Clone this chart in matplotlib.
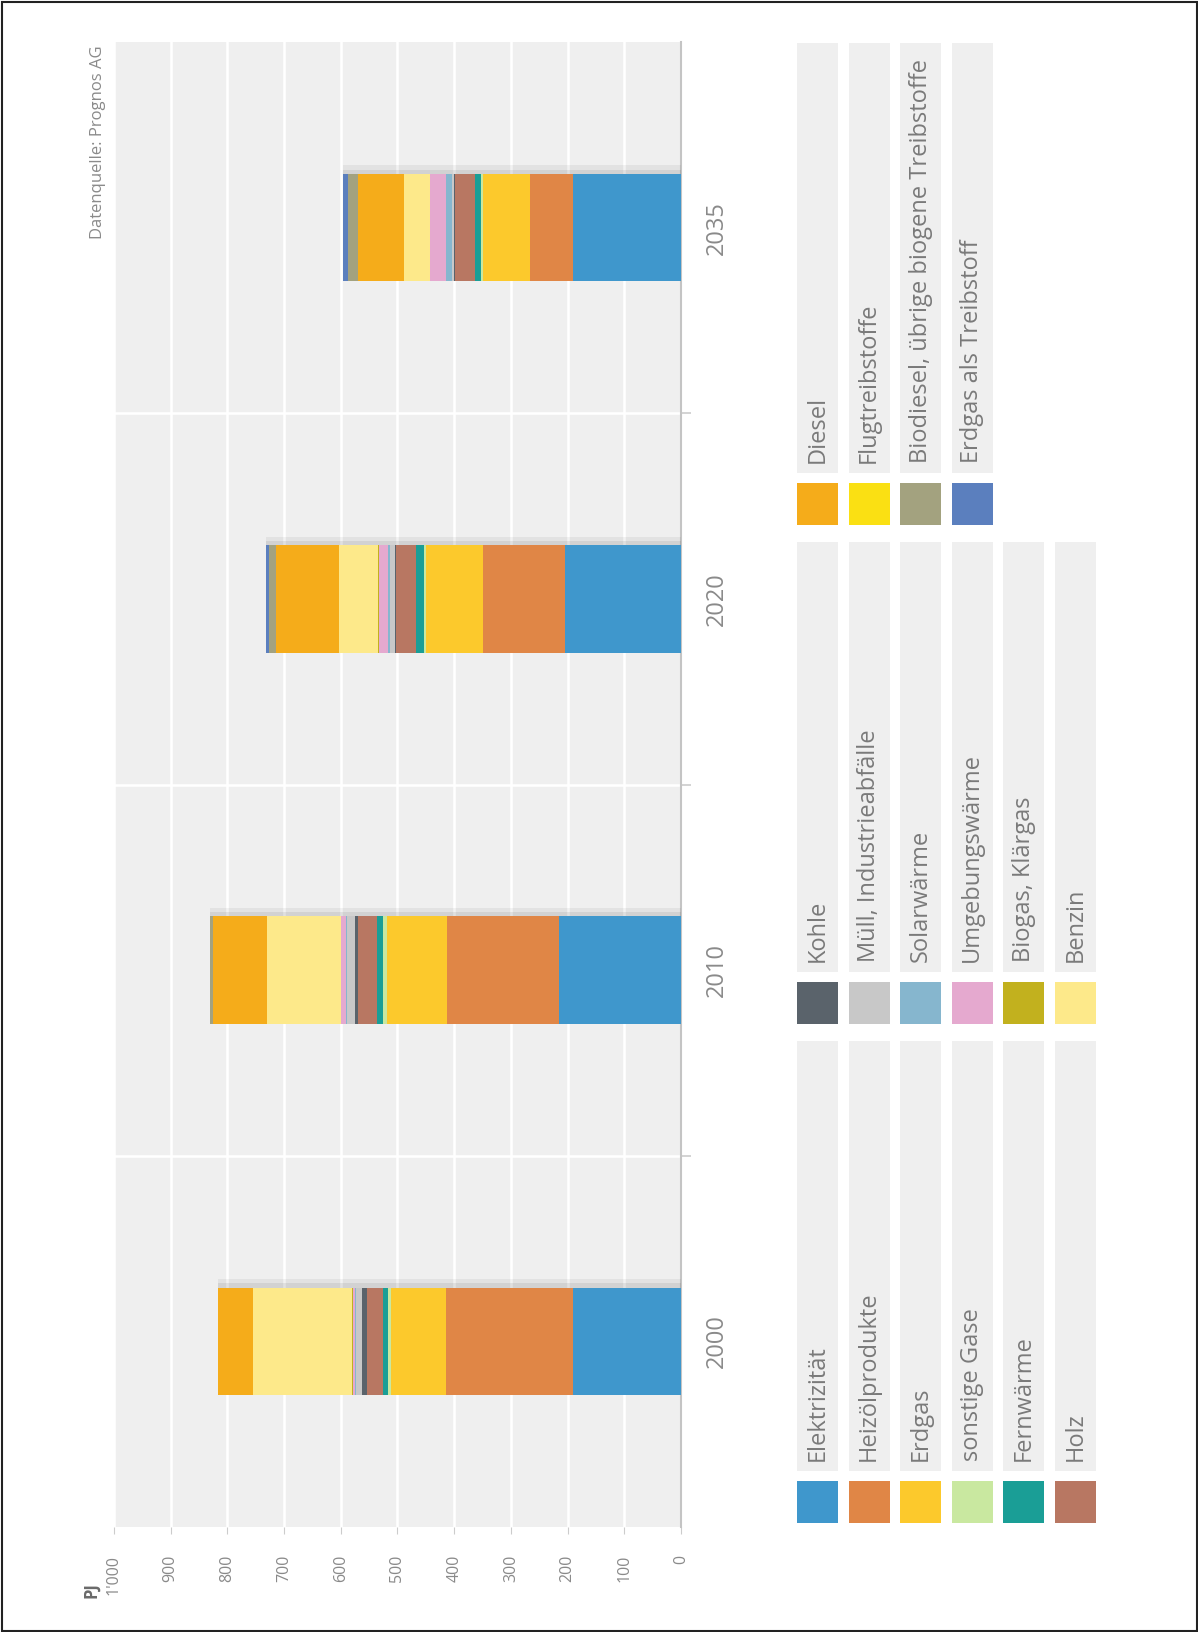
import matplotlib
matplotlib.use("Agg")
import matplotlib.pyplot as plt
from matplotlib.patches import Rectangle
from matplotlib import patheffects as pe
import numpy as np

plt.rcParams['font.family'] = ['Open Sans', 'DejaVu Sans']

# ---------------- data ----------------
years = ["2000", "2010", "2020", "2035"]
value_ticks = [0, 100, 200, 300, 400, 500, 600, 700, 800, 900, 1000]
value_tick_labels = ["0", "100", "200", "300", "400", "500", "600", "700", "800", "900", "1'000"]

elektrizitaet = [191, 216, 205, 190]
heizoel = [223, 197, 144, 76]
erdgas = [98, 106, 100, 83]
sonstige_gase = [5, 7, 5, 3]
fernwaerme = [8, 11, 14, 12]
holz = [28, 32, 35, 35]
kohle = [9, 6, 2, 1]
muell = [12, 14, 8, 4]
solarwaerme = [1, 2, 4, 10]
umgebungswaerme = [4, 8, 16, 28]
biogas = [1, 1, 1, 1]
benzin = [174, 130, 70, 46]
diesel = [63, 96, 110, 80]
flugtreibstoffe = [0, 0, 0, 0]
biodiesel = [0, 5, 13, 18]
erdgas_treibstoff = [0, 0, 5, 9]

series_names = ["Elektrizität", "Heizölprodukte", "Erdgas", "sonstige Gase", "Fernwärme", "Holz",
                "Kohle", "Müll, Industrieabfälle", "Solarwärme", "Umgebungswärme", "Biogas, Klärgas", "Benzin",
                "Diesel", "Flugtreibstoffe", "Biodiesel, übrige biogene Treibstoffe", "Erdgas als Treibstoff"]
series_values = [elektrizitaet, heizoel, erdgas, sonstige_gase, fernwaerme, holz,
                 kohle, muell, solarwaerme, umgebungswaerme, biogas, benzin,
                 diesel, flugtreibstoffe, biodiesel, erdgas_treibstoff]
series_colors = ["#3f97cc", "#e08646", "#fcc92c", "#c9e8a0", "#1a9e96", "#b87762",
                 "#5a636b", "#c8c8c8", "#86b6ce", "#e5a9cf", "#c2b11e", "#fde98a",
                 "#f5ac1a", "#fae013", "#a3a27f", "#5b7fbe"]

source_text = "Datenquelle: Prognos AG"
unit_text = "PJ"

# ---------------- layout ----------------
W, H = 1198, 1632
fig = plt.figure(figsize=(W / 100, H / 100), dpi=100)
fig.patch.set_facecolor("white")

px_left, px_right, px_top, px_bottom = 114, 681, 42, 1527
ax = fig.add_axes([px_left / W, 1 - px_bottom / H, (px_right - px_left) / W, (px_bottom - px_top) / H])
ax.set_facecolor("#efefef")

ypos = np.arange(len(years))
left = np.zeros(len(years))
shadow = [pe.SimplePatchShadow(offset=(0, 6), shadow_rgbFace="black", alpha=0.05),
          pe.SimplePatchShadow(offset=(0, 3), shadow_rgbFace="black", alpha=0.07),
          pe.Normal()]
for vals, col in zip(series_values, series_colors):
    v = np.array(vals, dtype=float)
    bars = ax.barh(ypos, v, left=left, height=0.29, color=col, edgecolor="none", zorder=3)
    for b in bars:
        b.set_path_effects(shadow)
    left += v

ax.set_xlim(1000, 0)
ax.set_ylim(-0.5, len(years) - 0.5)

ax.set_xticks(value_ticks)
ax.set_xticklabels(value_tick_labels, rotation=90, color="#8a8a8a", fontsize=11.5)
ax.tick_params(axis="x", length=5, color="#cccccc", pad=15)

ax.yaxis.tick_right()
ax.set_yticks(ypos)
ax.set_yticklabels(years, rotation=90, va="center", color="#8a8a8a", fontsize=17)
ax.tick_params(axis="y", which="major", length=0, pad=17)
ax.set_yticks(np.arange(len(years) - 1) + 0.5, minor=True)
ax.tick_params(axis="y", which="minor", length=7, color="#cccccc", width=1.2)

ax.grid(axis="x", which="major", color="white", lw=1.8, zorder=1)
ax.grid(axis="y", which="minor", color="white", lw=1.8, zorder=1)
ax.set_axisbelow(True)
for s in ["top", "left", "bottom"]:
    ax.spines[s].set_visible(False)
ax.spines["right"].set_color("#c4c4c4")
ax.spines["right"].set_linewidth(1.5)

# ---------------- overlay (legend, texts, frame) ----------------
lax = fig.add_axes([0, 0, 1, 1], zorder=5)
lax.set_xlim(0, W)
lax.set_ylim(H, 0)
lax.axis("off")
lax.patch.set_alpha(0)

lax.text(91, 1590, unit_text, rotation=90, ha="center", va="center", fontsize=12,
         fontweight="bold", color="#6a6a6a")
lax.text(98, 45, source_text, rotation=90, ha="center", va="top", fontsize=12, color="#8a8a8a")

row_pitch = 51.6
sw_w, sw_h = 41, 42
for i, (name, col) in enumerate(zip(series_names, series_colors)):
    c, r = divmod(i, 6)
    x0 = 797 + r * row_pitch
    sw_top = 1481 - 499 * c
    lax.add_patch(Rectangle((x0, sw_top), sw_w, sw_h, facecolor=col, edgecolor="none"))
    lax.add_patch(Rectangle((x0, sw_top - 440), sw_w, 430, facecolor="#efefef", edgecolor="none"))
    lax.text(x0 + sw_w / 2, sw_top - 20, name, rotation=90, ha="center", va="bottom",
             fontsize=17, color="#7a7a7a")

lax.add_patch(Rectangle((1.5, 1.5), W - 3, H - 3, fill=False, edgecolor="#222222", lw=1.5))

fig.savefig("out.png", dpi=100, facecolor="white")
